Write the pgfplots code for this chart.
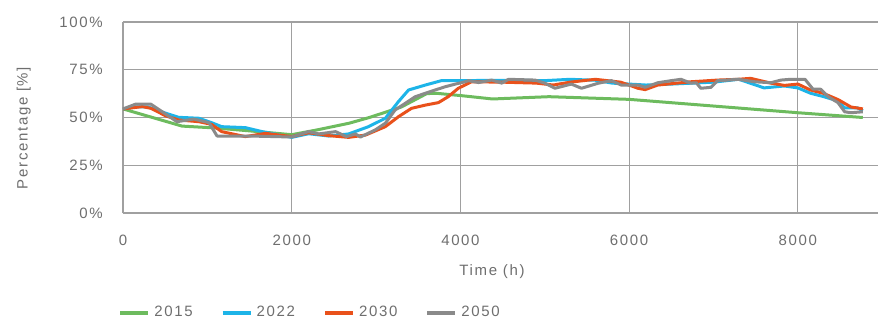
\documentclass[border=0pt]{standalone}
\usepackage{fontspec}
\setmainfont{Liberation Sans}[LetterSpace=11]
\usepackage{pgfplots}
\pgfplotsset{compat=1.18}
\definecolor{txt}{HTML}{6E6E6E}
\definecolor{gridc}{HTML}{A0A0A0}
\definecolor{c15}{HTML}{6DBB5E}
\definecolor{c22}{HTML}{1DB4E8}
\definecolor{c30}{HTML}{E9511B}
\definecolor{c50}{HTML}{8A8A8A}
\begin{document}
\begin{tikzpicture}
\begin{axis}[
  at={(0,0)}, anchor=south west,
  scale only axis, width=377.5pt, height=95.5pt,
  xmin=0, xmax=8950, ymin=0, ymax=100,
  axis x line*=bottom, axis y line*=left,
  xtick={0,2000,4000,6000,8000}, ytick={0,25,50,75,100},
  grid=major, major grid style={gridc, line width=0.6pt},
  axis line style={gridc, line width=0.6pt},
  tick style={draw=none},
  /pgf/number format/assume math mode=true,
  /pgf/number format/1000 sep={},
  ticklabel style={font=\fontsize{7.5}{9}\selectfont, text=txt},
  yticklabel={\pgfmathprintnumber{\tick}\%},
  yticklabel style={anchor=east, inner sep=0pt, xshift=-10pt},
  xticklabel style={anchor=north, inner sep=0pt, yshift=-11pt},
  xlabel={Time (h)},
  xlabel style={at={(axis description cs:0,0)}, anchor=center, xshift=184.5pt, yshift=-29.5pt, font=\fontsize{7.5}{9}\selectfont, text=txt},
  ylabel={Percentage [\%]},
  ylabel style={at={(axis description cs:-0.1314,0.445)}, anchor=center, font=\fontsize{7.5}{9}\selectfont, text=txt},
  legend columns=4,
  legend style={at={(axis description cs:0,0)}, anchor=west, xshift=-2.5pt, yshift=-50pt, draw=none, fill=none, inner sep=0pt, font=\fontsize{7.5}{9}\selectfont, text=txt, /tikz/every even column/.append style={column sep=12pt}},
  legend cell align=left,
  legend image code/.code={\draw[#1, line width=2pt] (0pt,0pt) -- (14pt,0pt);},
  line join=round,
]
\addplot[c15, line width=1.5pt, no marks] table {
0 54.5
700 45.5
1100 44.5
1500 43
2000 41
2300 43.5
2680 47
2920 50
3300 55.5
3600 62.5
3710 62.7
4020 61.4
4380 59.7
5050 60.9
6000 59.5
7000 56
8000 52.5
8770 50
};
\addlegendentry{2015}
\addplot[c22, line width=1.5pt, no marks] table {
0 54.5
150 55.5
300 55.5
510 52.2
660 50.1
900 49.6
1050 47.3
1170 45.2
1450 44.7
1650 42.6
2000 39.6
2200 41.5
2440 40.3
2675 41.4
2910 45.2
3110 49.6
3265 58.3
3385 64.4
3585 67
3775 69.3
4010 69.3
4500 69.5
5000 69.3
5300 70
5600 69.5
5800 68
6000 67.5
6200 67
6500 67.5
7000 68.5
7300 70
7600 65.5
7840 66.5
8000 65.5
8150 62.7
8300 61
8480 58.6
8555 55
8710 55
8770 53.5
};
\addlegendentry{2022}
\addplot[c30, line width=1.5pt, no marks] table {
0 54.5
230 55.7
330 54.8
510 50.8
660 48.7
900 47.8
1050 46.4
1170 42.6
1450 40
1690 41.7
2000 40
2200 42
2440 40.5
2675 39.6
2875 40.8
3110 45.2
3265 50.4
3420 54.8
3585 56.5
3740 57.8
3855 60.9
3975 65.3
4130 68.7
4500 68.5
4900 68
5100 67
5300 68.5
5600 70
5900 68.5
6105 65.3
6190 64.6
6340 67
6730 68.7
7050 69.6
7290 70
7440 70.5
7680 68
7840 66.8
8000 67.5
8150 64.4
8300 62.7
8480 59.3
8630 55.5
8770 54.5
};
\addlegendentry{2030}
\addplot[c50, line width=1.5pt, no marks] table {
0 54.5
150 57
330 57
640 47.8
840 49.2
1020 47.3
1115 40.3
1500 40.3
2000 39.8
2200 42.6
2320 41.4
2520 42.6
2650 40
2755 41.4
2815 39.8
2990 43.5
3110 47
3225 53.9
3345 57.4
3465 60.9
3585 62.7
3700 64.4
3820 66.1
3940 67.5
4055 68.7
4095 69.3
4215 68.3
4370 69.6
4490 68
4570 70
4885 69.6
5000 68
5120 65.3
5315 67.5
5435 65.3
5630 67.9
5790 69.3
5905 67
6105 67
6190 65.8
6340 68.2
6500 69.3
6615 70
6730 68
6795 68.2
6850 65.3
6970 65.8
7050 69.3
7290 70
7490 68.7
7680 68.2
7800 69.6
7915 70
8085 70
8180 64.8
8270 64.8
8360 60.9
8475 57.8
8555 53
8630 52.5
8770 53
};
\addlegendentry{2050}
\end{axis}
\pgfresetboundingbox
\path[use as bounding box] (-61.5pt,-54.5pt) rectangle (377.5pt,106.5pt);
\end{tikzpicture}
\end{document}
